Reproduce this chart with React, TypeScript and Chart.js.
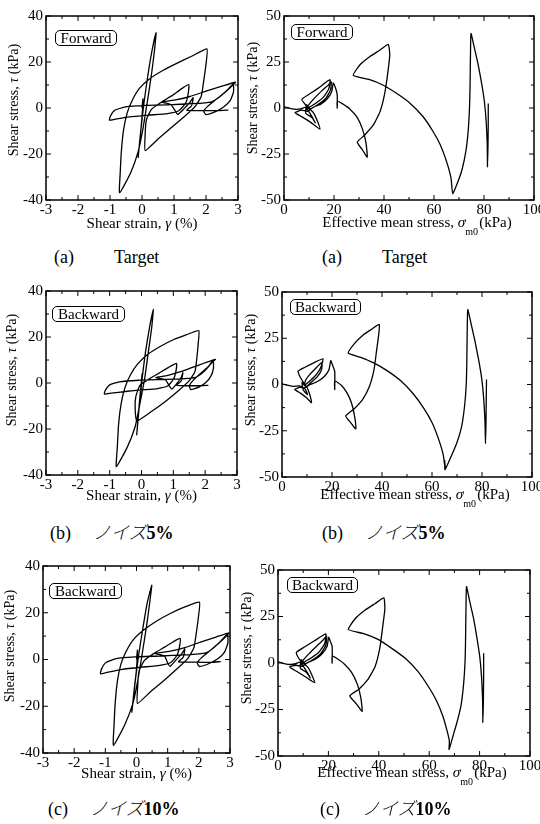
import React, { useEffect, useRef } from "react";
import { Chart, registerables } from "chart.js";

Chart.register(...registerables);

// ---------- DATA ----------
// Shear strain (%) / shear stress (kPa) paths
const strainTarget: number[][] = [
  [0, 0], [0.03, 4], [0, -4], [-0.06, -13], [-0.12, -21.5],
  [-0.04, -10], [0.06, 2], [0.17, 13], [0.3, 24], [0.44, 32.7],
  [0.39, 25], [0.3, 15], [0.17, 3], [0.03, -9], [-0.12, -19], [-0.35, -28], [-0.7, -36.9],
  [-0.68, -28], [-0.64, -18], [-0.57, -9], [-0.46, -2], [-0.3, 3.5], [-0.08, 8.5], [0.25, 12.8], [0.65, 16.3], [1.1, 19.5], [1.55, 22.5], [2.03, 25.7],
  [2.0, 19], [1.93, 12], [1.85, 5], [1.65, 0.5], [1.3, -4], [0.9, -8.7], [0.5, -13.5], [0.1, -18.5],
  [0.1, -11], [0.14, -5], [0.3, -0.5], [0.6, 2.5], [0.95, 5.5], [1.22, 8.2], [1.46, 10.2],
  [1.44, 6], [1.36, 2], [1.15, -1.2], [0.8, -2.4], [0.2, -3.1], [-0.4, -3.9], [-0.85, -4.9], [-1.02, -5.3],
  [-0.98, -3.3], [-0.85, -1], [-0.55, 0.4], [0, 1], [0.8, 1.4], [1.6, 1.9], [2.15, 2.6], [2.4, 4.6], [2.65, 7.6], [2.85, 10.5],
  [2.86, 7], [2.76, 3.3], [2.55, 0.4], [2.3, -1.6], [2.0, -2.9], [1.93, -1.4], [2.05, 0.7], [2.3, 3.6], [2.58, 6.6], [2.8, 9.4], [2.92, 11.2],
  [2.5, 9.5], [2.0, 7.3], [1.5, 5], [1.0, 3.4], [0.6, 2.6],
  [0.9, 1.5], [1.05, -1.5], [1.12, -2.8], [1.3, -0.5], [1.5, 2.5], [1.6, 4.5], [1.55, 1], [1.4, -1],
  [1.8, -1.1], [2.4, -1.1], [2.7, -0.9],
];

const strainNoise5: number[][] = [
  [0, 0], [0.02, 4], [-0.05, -6], [-0.1, -14], [-0.15, -22.5],
  [-0.07, -10], [0.02, 2], [0.12, 13], [0.25, 24], [0.37, 32],
  [0.32, 24], [0.22, 14], [0.1, 2], [-0.05, -9], [-0.2, -19], [-0.45, -28], [-0.79, -36.4],
  [-0.76, -28], [-0.72, -18], [-0.64, -9], [-0.52, -2], [-0.35, 3.5], [-0.12, 8.3], [0.2, 12.5], [0.6, 16], [1.0, 18.8], [1.4, 20.9], [1.8, 22.8],
  [1.78, 17], [1.74, 11], [1.68, 5], [1.5, 1], [1.15, -3.5], [0.75, -8], [0.3, -12.5], [-0.15, -16.5],
  [-0.2, -11], [-0.18, -6], [-0.05, -1], [0.25, 1.8], [0.55, 4.3], [0.85, 6.8], [1.1, 8.5],
  [1.08, 5], [1.0, 1.5], [0.82, -1.3], [0.5, -2.4], [0, -3], [-0.5, -3.7], [-0.95, -4.4], [-1.17, -4.8],
  [-1.13, -3], [-1.0, -0.8], [-0.7, 0.5], [-0.1, 1.2], [0.6, 1.5], [1.3, 1.8], [1.7, 2.4], [1.9, 4.2], [2.1, 7], [2.25, 10],
  [2.26, 6.5], [2.18, 3], [2.02, 0.2], [1.8, -1.8], [1.55, -2.9], [1.5, -1.3], [1.6, 0.8], [1.8, 3.5], [2.05, 6.5], [2.22, 9], [2.32, 10.3],
  [2.0, 8.8], [1.6, 6.8], [1.2, 4.8], [0.8, 3.2], [0.45, 2.4],
  [0.75, 1.4], [0.88, -1.4], [0.95, -2.7], [1.1, -0.4], [1.25, 2.5], [1.3, 4.5], [1.25, 1], [1.1, -1],
  [1.3, -1.1], [1.8, -1.2], [2.1, -1],
];

const strainNoise10: number[][] = [
  [0, 0], [0.03, 4], [0, -4], [-0.07, -13], [-0.15, -22.5],
  [-0.05, -10], [0.07, 2], [0.2, 13], [0.34, 24], [0.49, 31.8],
  [0.43, 25], [0.33, 15], [0.19, 3], [0.04, -9], [-0.12, -19], [-0.38, -28], [-0.74, -36.8],
  [-0.72, -28], [-0.68, -18], [-0.61, -9], [-0.5, -2], [-0.33, 3.5], [-0.1, 8.5], [0.25, 12.8], [0.65, 16.5], [1.1, 19.8], [1.55, 22.5], [2.02, 24.5],
  [1.99, 18.5], [1.92, 11.5], [1.84, 5], [1.65, 0.5], [1.3, -4], [0.9, -8.8], [0.45, -13.8], [0.03, -18.8],
  [0.04, -11], [0.08, -5], [0.25, -0.5], [0.55, 2.5], [0.9, 5.3], [1.17, 7.5], [1.4, 9],
  [1.38, 5.5], [1.3, 1.8], [1.1, -1.3], [0.75, -2.5], [0.15, -3.3], [-0.45, -4.2], [-0.95, -5.5], [-1.16, -6.1],
  [-1.12, -4], [-0.98, -1.3], [-0.65, 0.4], [-0.05, 1.1], [0.75, 1.5], [1.6, 2], [2.2, 2.7], [2.45, 4.7], [2.7, 7.8], [2.92, 10.8],
  [2.93, 7], [2.83, 3.3], [2.62, 0.4], [2.35, -1.6], [2.02, -3], [1.95, -1.4], [2.08, 0.7], [2.35, 3.7], [2.63, 6.8], [2.86, 9.7], [2.97, 11.4],
  [2.55, 9.6], [2.05, 7.4], [1.55, 5.1], [1.05, 3.5], [0.6, 2.6],
  [0.9, 1.5], [1.0, -1.5], [1.08, -2.9], [1.25, -0.5], [1.45, 2.5], [1.55, 4.5], [1.5, 1], [1.35, -1],
  [1.8, -1.1], [2.4, -1.2], [2.7, -0.9],
];

// Effective mean stress (kPa) / shear stress (kPa) paths
const pathTarget: number[][] = [
  [81.7, 2.5], [81.7, -8], [81.6, -20], [81.4, -32], [81.3, -20], [80.9, -8], [80.2, 3], [79.1, 13], [77.6, 24], [76.1, 33], [74.8, 40.5],
  [74.6, 30], [74.5, 20], [74.4, 10], [74.2, 0], [73.7, -12], [72.8, -23], [71.3, -33], [69.6, -40], [67.5, -46.5],
  [66.8, -38], [65, -29], [62.5, -20], [59.5, -12.5], [55.5, -4.5], [50.5, 2.5], [45, 8], [39.5, 12.5], [34, 15.5], [27.7, 17.7],
  [30.4, 23.5], [34.4, 28], [38.4, 31.5], [41.7, 34.6], [42.3, 29], [41.6, 20], [40.3, 8], [38.4, -2], [35.6, -9.5], [32.2, -14.8], [29.3, -18.6],
  [31.3, -22.6], [33.3, -26.7], [32.8, -19], [31.4, -11.5], [29.2, -5], [26.3, -0.5], [23.3, 2.4], [21.3, 3.8], [21.3, 0], [21.3, 7], [20.6, 11], [19.7, 13.6],
  [19.1, 9], [17.3, 5], [14.6, 2], [11.5, 0.3],
  [9.5, -1.8], [7, -1.2], [4.4, -2.5], [7.2, -4.8], [10.7, -7.8], [14.4, -11.5], [13.1, -6.2], [11.6, -2.2], [9.7, 0], [8.2, 2.4], [7.1, 4.7],
  [10.2, 7.6], [13.7, 10.8], [18.4, 15.4], [17.9, 10.3], [15.7, 5.8], [12.7, 2.6], [10.1, 0.4], [8.6, -1.4], [9.6, 1.2], [12.1, 5.2], [15.1, 9.3], [17.6, 12.3], [18.9, 14.1],
  [18.6, 9.7], [16.7, 5.2], [13.3, 1.6], [10.6, -0.3], [9.0, 1.8], [8.7, -2.8], [11.2, -5.2], [12.5, -8], [10.2, -2.5], [8.5, 0.4],
  [7, -0.4], [5, -0.8], [2.4, -0.2], [0, 0.6],
];

const pathNoise5: number[][] = [
  [81.8, 2.7], [81.7, -8], [81.6, -20], [81.4, -32], [81.2, -20], [80.7, -8], [79.9, 3], [78.7, 13], [77.1, 24], [75.6, 33], [74.3, 40.5],
  [74.1, 30], [74, 20], [73.9, 10], [73.7, 0], [73.0, -12], [71.8, -23], [69.8, -32], [67.6, -39], [65.2, -46], [65.1, -41], [65.3, -46],
  [64.5, -38], [62.5, -29], [60, -20.5], [56.8, -13], [52.5, -5], [47.5, 2], [42, 7.5], [36.5, 11.8], [31.5, 14.7], [26.5, 17],
  [29.2, 22.5], [32.5, 26.8], [36, 30], [38.9, 32.5], [38.6, 26], [37.8, 18], [36.8, 8], [35, -1], [32.3, -8], [28.8, -13.2], [25.5, -17],
  [27.4, -20.5], [29.5, -24], [29, -17], [27.8, -10], [26, -4.5], [23.8, -0.5], [21.1, 2], [21.1, -2.7], [21.1, 7], [20.3, 10.2], [19.5, 12.9],
  [18.8, 8], [16.8, 4.2], [14, 1.5], [11, -0.2],
  [9, -1.8], [7, -1.5], [5.1, -2.7], [7.5, -4.8], [9.8, -7.2], [11.8, -9.8], [11, -5], [10, -1.5], [8.8, 0.6], [7.5, 3.5], [6.4, 7.1],
  [9, 9.2], [12.5, 11.6], [16.4, 13.9], [15.6, 9.5], [13.5, 5], [11, 1.8], [9, -0.2], [9.5, 2.5], [11.5, 6], [14, 9.5], [16, 12],
  [15.8, 8], [14, 4], [11.5, 1], [9.5, -1.2], [8, 1], [8.5, -3], [10.2, -5.5], [9.3, -2.5],
  [7, -0.8], [4.5, -1], [2, -0.4], [0, 0.4],
];

const pathNoise10: number[][] = [
  [81.6, 5.3], [81.6, -8], [81.5, -20], [81.3, -31.9], [81.2, -20], [80.8, -8], [80.1, 3], [79, 13], [77.6, 24], [76.1, 33], [74.8, 41.1],
  [74.6, 30], [74.5, 20], [74.4, 10], [74.2, 0], [73.6, -12], [72.6, -23], [71, -32], [69.5, -39], [67.9, -46.5], [68, -42],
  [67.2, -37], [65.4, -28.5], [62.8, -20], [59.6, -12.5], [55.5, -4.5], [50.5, 2.5], [45, 8], [39.5, 12.8], [34, 15.8], [27.9, 18],
  [30.6, 23.8], [34.6, 28.5], [38.6, 32], [42, 35], [42.4, 29], [41.6, 20], [40.4, 8], [38.5, -2], [35.6, -9], [32.1, -14.1], [28.5, -17.7],
  [31, -21.8], [33.4, -26], [32.9, -19], [31.5, -11.5], [29.2, -5], [26.3, -0.5], [23.4, 2.4], [21.5, 3.8], [21.5, 0], [21.5, 8.9], [20.8, 11.5], [20.1, 13.8],
  [19.5, 9], [17.5, 5], [14.8, 2], [11.7, 0.2],
  [9.7, -1.8], [7.2, -1.2], [4.6, -2.1], [7.5, -4.6], [11, -7.5], [14.6, -10.6], [13.3, -6], [11.8, -2.2], [9.8, 0], [8.3, 2.4], [7.3, 5.7],
  [10.5, 8.6], [14.3, 11.8], [19, 15.6], [18.5, 10.3], [16.2, 5.8], [13, 2.6], [10.3, 0.4], [8.8, -1.4], [9.8, 1.2], [12.4, 5.2], [15.5, 9.3], [18, 12.5], [19.3, 14.5],
  [19, 9.7], [17, 5.2], [13.6, 1.6], [10.8, -0.3], [9.2, 1.8], [8.9, -2.8], [11.4, -5.2], [12.8, -8], [10.4, -2.5], [8.7, 0.4],
  [7, -0.4], [5, -0.8], [2.4, -0.3], [0, 0.6],
];

// Axis ranges / ticks
const strainAxis = { min: -3, max: 3, step: 1, minor: 0.5 };
const strainStressAxis = { min: -40, max: 40, step: 20, minor: 10 };
const meanStressAxis = { min: 0, max: 100, step: 20, minor: 10 };
const pathStressAxis = { min: -50, max: 50, step: 25, minor: 12.5 };

const captionLetters = ["(a)", "(b)", "(c)"];
const captionTexts = ["Target", "ノイズ", "ノイズ"];
const captionNumbers = ["", "5%", "10%"];
const modeLabels = ["Forward", "Backward", "Backward"];

// ---------- RENDERING ----------
const SERIF = '"Liberation Serif", "Times New Roman", Times, "DejaVu Serif", serif';
const PADL = 40;
const PADT = 10;
const PADR = 16;
const PADB = 22;

type Box = { l: number; t: number; r: number; b: number };
type Axis = { min: number; max: number; step: number; minor: number };

const frameTicks = {
  id: "frameTicks",
  afterDraw(chart: any, _a: any, opts: any) {
    const { ctx, chartArea } = chart;
    const { left, right, top, bottom } = chartArea;
    const xs = chart.scales.x;
    const ys = chart.scales.y;
    ctx.save();
    ctx.strokeStyle = "#000";
    ctx.lineWidth = 1;
    const seg = (x1: number, y1: number, x2: number, y2: number) => {
      ctx.beginPath();
      ctx.moveTo(x1, y1);
      ctx.lineTo(x2, y2);
      ctx.stroke();
    };
    const xa: Axis = opts.xa;
    const ya: Axis = opts.ya;
    const nx = Math.round((xa.max - xa.min) / xa.minor);
    for (let i = 0; i <= nx; i++) {
      const v = xa.min + i * xa.minor;
      const major = Math.abs(v / xa.step - Math.round(v / xa.step)) < 1e-6;
      const len = major ? 5 : 3;
      const p = xs.getPixelForValue(v);
      seg(p, bottom, p, bottom - len);
      seg(p, top, p, top + len);
    }
    const ny = Math.round((ya.max - ya.min) / ya.minor);
    for (let i = 0; i <= ny; i++) {
      const v = ya.min + i * ya.minor;
      const major = Math.abs(v / ya.step - Math.round(v / ya.step)) < 1e-6;
      const len = major ? 5 : 3;
      const p = ys.getPixelForValue(v);
      seg(left, p, left + len, p);
      seg(right, p, right - len, p);
    }
    ctx.lineWidth = 1.5;
    ctx.strokeRect(left, top, right - left, bottom - top);
    ctx.restore();
  },
};

function PanelChart(props: { box: Box; xa: Axis; ya: Axis; pts: number[][] }) {
  const { box, xa, ya, pts } = props;
  const ref = useRef<HTMLCanvasElement | null>(null);
  const w = box.r - box.l + PADL + PADR;
  const h = box.b - box.t + PADT + PADB;
  useEffect(() => {
    if (!ref.current) return;
    const tickFont = { family: SERIF, size: 15 };
    const chart = new Chart(ref.current, {
      type: "scatter",
      data: {
        datasets: [
          {
            data: pts.map(([x, y]) => ({ x, y })),
            showLine: true,
            borderColor: "#000",
            borderWidth: 1.3,
            pointRadius: 0,
            tension: 0.15,
            fill: false,
          },
        ],
      },
      options: {
        animation: false,
        responsive: false,
        devicePixelRatio: 1,
        layout: { padding: { top: PADT, right: PADR, left: 0, bottom: 0 } },
        plugins: {
          legend: { display: false },
          tooltip: { enabled: false },
          frameTicks: { xa, ya },
        } as any,
        scales: {
          x: {
            type: "linear",
            min: xa.min,
            max: xa.max,
            grid: { display: false, drawTicks: false },
            border: { display: false },
            ticks: { stepSize: xa.step, color: "#000", font: tickFont, padding: 1, maxRotation: 0, autoSkip: false },
            afterFit: (s: any) => {
              s.height = PADB;
            },
          },
          y: {
            type: "linear",
            min: ya.min,
            max: ya.max,
            grid: { display: false, drawTicks: false },
            border: { display: false },
            ticks: { stepSize: ya.step, color: "#000", font: tickFont, padding: 3, autoSkip: false },
            afterFit: (s: any) => {
              s.width = PADL;
            },
          },
        },
      } as any,
      plugins: [frameTicks as any],
    });
    return () => chart.destroy();
  }, []);
  return (
    <canvas
      ref={ref}
      width={w}
      height={h}
      style={{ position: "absolute", left: box.l - PADL, top: box.t - PADT, width: w, height: h }}
    />
  );
}

const abs = (l: number, t: number): React.CSSProperties => ({ position: "absolute", left: l, top: t });

function YTitle({ cx, cy }: { cx: number; cy: number }) {
  return (
    <div
      style={{
        ...abs(cx - 80, cy - 9),
        width: 160,
        height: 18,
        lineHeight: "18px",
        textAlign: "center",
        transform: "rotate(-90deg)",
        fontFamily: SERIF,
        fontSize: 14,
        whiteSpace: "nowrap",
      }}
    >
      Shear stress, <i>τ</i> (kPa)
    </div>
  );
}

function XTitleStrain({ cx, cy }: { cx: number; cy: number }) {
  return (
    <div style={{ ...abs(cx - 100, cy - 9), width: 200, textAlign: "center", lineHeight: "18px", fontFamily: SERIF, fontSize: 15, whiteSpace: "nowrap" }}>
      Shear strain, <i>γ</i> (%)
    </div>
  );
}

function XTitleMean({ cx, cy }: { cx: number; cy: number }) {
  return (
    <div style={{ ...abs(cx - 120, cy - 9), width: 240, textAlign: "center", lineHeight: "18px", fontFamily: SERIF, fontSize: 15, whiteSpace: "nowrap" }}>
      Effective mean stress, <i>σ</i>
      <span style={{ display: "inline-block", position: "relative", width: 14 }}>
        <span style={{ position: "absolute", left: -1, top: -13, fontSize: 11 }}>′</span>
        <span style={{ position: "absolute", left: 0, top: -4, fontSize: 10 }}>m0</span>
      </span>
      (kPa)
    </div>
  );
}

function ModeBox({ l, t, w, h, text }: { l: number; t: number; w: number; h: number; text: string }) {
  return (
    <div
      style={{
        ...abs(l, t),
        width: w,
        height: h,
        boxSizing: "border-box",
        border: "1.3px solid #000",
        borderRadius: 5,
        fontFamily: SERIF,
        fontSize: 15,
        lineHeight: `${h - 2}px`,
        textAlign: "center",
        background: "#fff",
      }}
    >
      {text}
    </div>
  );
}

function Caption({ x, cy, i }: { x: number; cy: number; i: number }) {
  const gap = i === 0 ? 40 : 22;
  return (
    <div style={{ ...abs(x, cy - 12), height: 24, lineHeight: "24px", fontFamily: SERIF, fontSize: 18, whiteSpace: "nowrap" }}>
      <span>{captionLetters[i]}</span>
      <span style={{ display: "inline-block", width: gap }} />
      <span style={{ fontFamily: i === 0 ? SERIF : '"Noto Sans CJK JP", sans-serif', fontStyle: i === 0 ? "normal" : "italic", fontWeight: i === 0 ? 400 : 300 }}>
        {captionTexts[i]}
      </span>
      <span style={{ fontWeight: "bold" }}>{captionNumbers[i]}</span>
    </div>
  );
}

const leftBoxes: Box[] = [
  { l: 46, t: 14, r: 238, b: 200 },
  { l: 46, t: 289, r: 237, b: 475 },
  { l: 43, t: 564, r: 230, b: 753 },
];
const rightBoxes: Box[] = [
  { l: 284, t: 14, r: 534, b: 200 },
  { l: 282, t: 290, r: 532, b: 477 },
  { l: 278, t: 568, r: 530, b: 756 },
];
const strainSets = [strainTarget, strainNoise5, strainNoise10];
const pathSets = [pathTarget, pathNoise5, pathNoise10];
const leftModeOff = [
  { dx: 9, dy: 16, w: 62, h: 16 },
  { dx: 6, dy: 17, w: 73, h: 16 },
  { dx: 6, dy: 19, w: 73, h: 16 },
];
const rightModeOff = [
  { dx: 7, dy: 10, w: 62, h: 16 },
  { dx: 8, dy: 9, w: 71, h: 16 },
  { dx: 9, dy: 9, w: 71, h: 16 },
];
const leftYT = [{ x: 14, y: 100 }, { x: 12, y: 370 }, { x: 10, y: 646 }];
const rightYT = [{ x: 253, y: 98 }, { x: 251, y: 370 }, { x: 247, y: 648 }];
const xTitleY = [223, 495, 773];
const capY = [257, 531, 807];
const capLeftX = [54, 50, 48];
const capRightX = [322, 322, 320];

export default function App() {
  return (
    <div style={{ position: "absolute", left: 0, top: 0, width: 540, height: 824, overflow: "hidden", background: "#fff", color: "#000" }}>
      {[0, 1, 2].map((i) => {
        const lb = leftBoxes[i];
        const rb = rightBoxes[i];
        return (
          <React.Fragment key={i}>
            <PanelChart box={lb} xa={strainAxis} ya={strainStressAxis} pts={strainSets[i]} />
            <PanelChart box={rb} xa={meanStressAxis} ya={pathStressAxis} pts={pathSets[i]} />
            <ModeBox l={lb.l + leftModeOff[i].dx} t={lb.t + leftModeOff[i].dy} w={leftModeOff[i].w} h={leftModeOff[i].h} text={modeLabels[i]} />
            <ModeBox l={rb.l + rightModeOff[i].dx} t={rb.t + rightModeOff[i].dy} w={rightModeOff[i].w} h={rightModeOff[i].h} text={modeLabels[i]} />
            <YTitle cx={leftYT[i].x} cy={leftYT[i].y} />
            <YTitle cx={rightYT[i].x} cy={rightYT[i].y} />
            <XTitleStrain cx={(lb.l + lb.r) / 2} cy={xTitleY[i]} />
            <XTitleMean cx={(rb.l + rb.r) / 2 + 8} cy={xTitleY[i] - 1} />
            <Caption x={capLeftX[i]} cy={capY[i]} i={i} />
            <Caption x={capRightX[i]} cy={capY[i]} i={i} />
          </React.Fragment>
        );
      })}
    </div>
  );
}
